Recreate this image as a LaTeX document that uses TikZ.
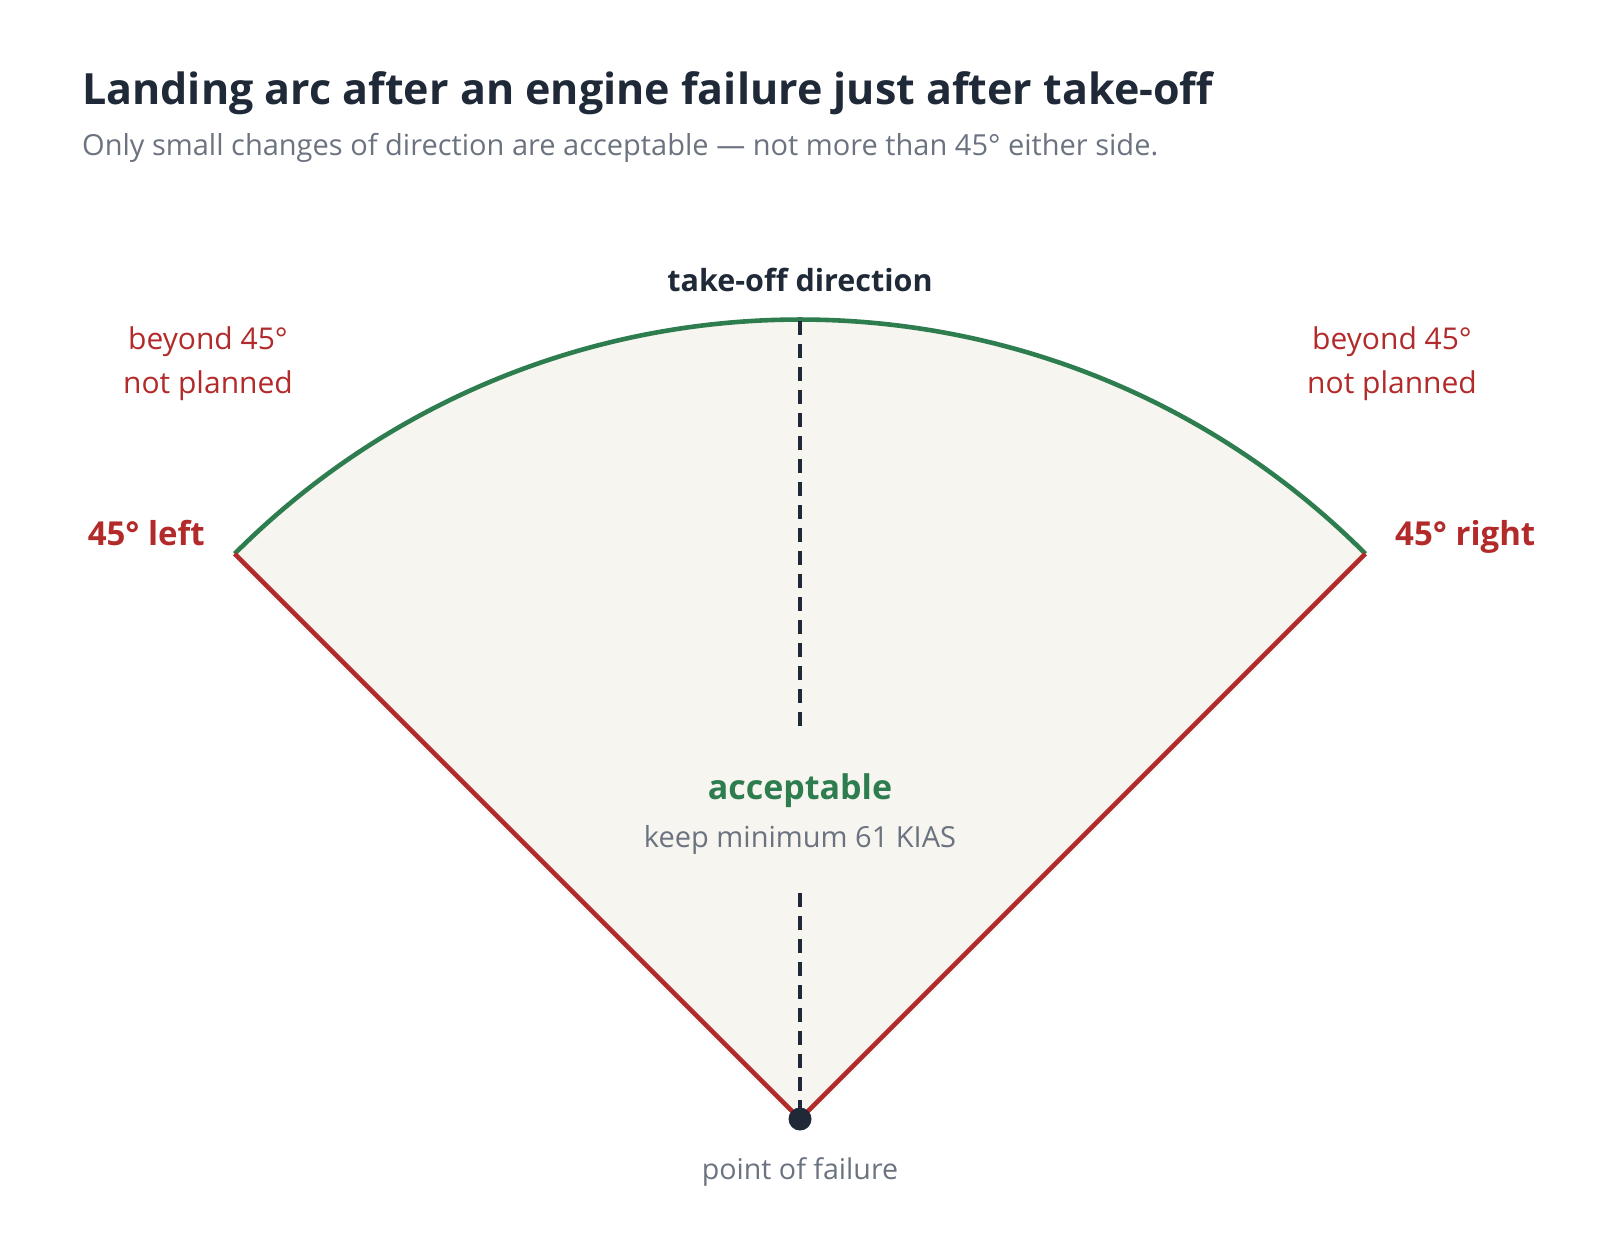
\documentclass[tikz,border=0pt]{standalone}
\usetikzlibrary{calc}
\usepackage{fontspec}
\setmainfont{Open Sans}
\definecolor{navy}{HTML}{1F2937}
\definecolor{gr}{HTML}{6B7280}
\definecolor{rd}{HTML}{B22A2A}
\definecolor{gn}{HTML}{2E7D4F}
\definecolor{fl}{HTML}{F7F5F0}
\begin{document}
\begin{tikzpicture}[x=1pt,y=-1pt,
  lbl/.style={inner sep=0pt},
  redl/.style={lbl,text=rd,font=\fontsize{30}{44}\selectfont,align=center},
  side/.style={lbl,text=rd,font=\fontsize{33}{38}\selectfont\bfseries}]
\useasboundingbox (0,0) rectangle (1600,1240);
\coordinate (O) at (800,1119);
\coordinate (L) at ($(O)+(-565.3,-565.3)$);
\coordinate (R) at ($(O)+(565.3,-565.3)$);
\coordinate (T) at (800,321);
\fill[fl] (O) -- (L) arc[start angle=225,end angle=315,radius=799.5] -- cycle;
\draw[gn,line width=4.6pt] (L) arc[start angle=225,end angle=315,radius=799.5];
\draw[rd,line width=4.6pt,line join=miter] (L) -- (O) -- (R);
\coordinate (D1) at (800,735);
\coordinate (D2) at (800,893);
\draw[navy,line width=4pt,dash pattern=on 14pt off 9pt] (T) -- (D1);
\draw[navy,line width=4pt,dash pattern=on 14pt off 9pt] (D2) -- (O);
\fill[navy] (O) circle[radius=11.5];
\node[lbl,anchor=base west,text=navy,font=\fontsize{43}{50}\selectfont\bfseries] (title) at (82,104) {Landing arc after an engine failure just after take-off};
\node[lbl,anchor=base west,text=gr,font=\fontsize{29}{34}\selectfont] (sub) at (82,155) {Only small changes of direction are acceptable — not more than 45° either side.};
\node[lbl,anchor=base,text=navy,font=\fontsize{30.5}{36}\selectfont\bfseries] (tod) at (800,291) {take-off direction};
\node[redl] (bl) at (208,364) {beyond 45°\\not planned};
\node[redl] (br) at (1392,364) {beyond 45°\\not planned};
\node[side,anchor=base east] (l45) at (205,545) {45° left};
\node[side,anchor=base west] (r45) at (1395,545) {45° right};
\node[lbl,anchor=base,text=gn,font=\fontsize{34}{40}\selectfont\bfseries] (acc) at (800,799) {acceptable};
\node[lbl,anchor=base,text=gr,font=\fontsize{29}{34}\selectfont] (keep) at (800,847) {keep minimum 61 KIAS};
\node[lbl,anchor=base,text=gr,font=\fontsize{28.6}{34}\selectfont] (pof) at (800,1179) {point of failure};
\end{tikzpicture}
\end{document}
